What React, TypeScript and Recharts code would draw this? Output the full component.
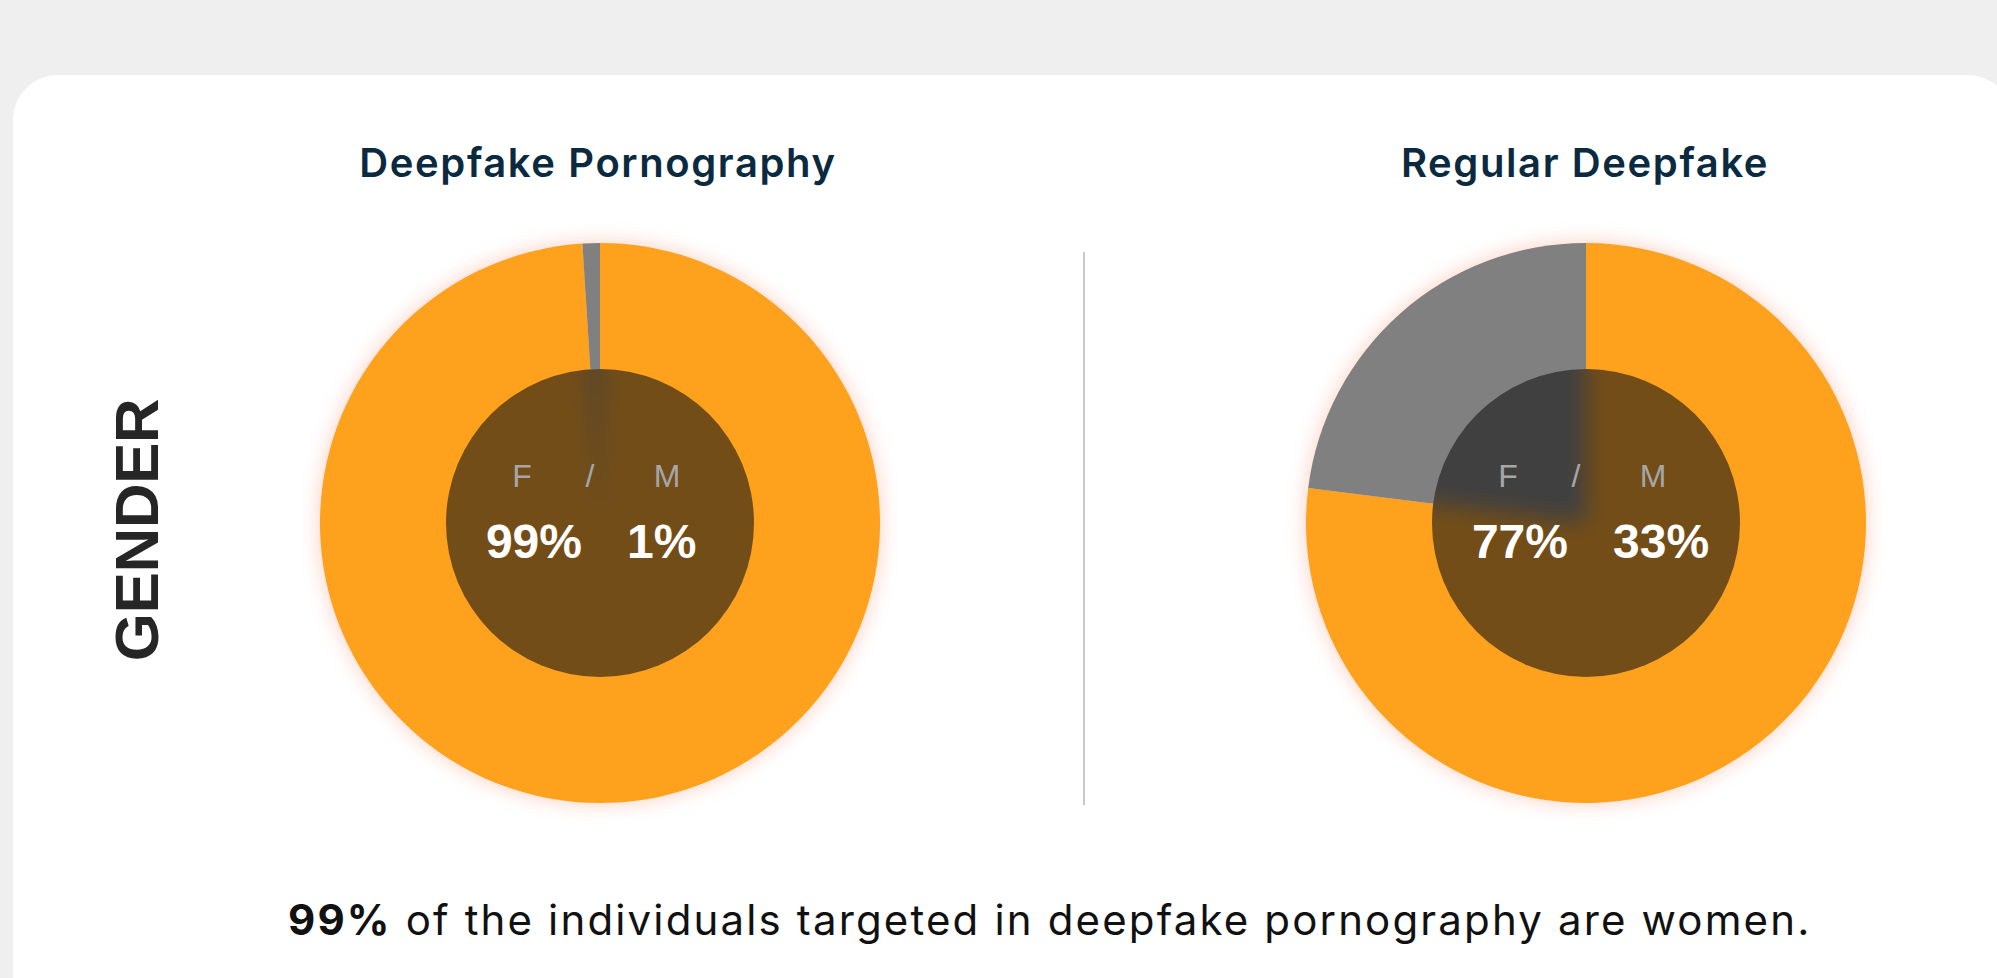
import React from 'react';
import { PieChart, Pie, Cell } from 'recharts';

// ---- data ----
const categories = ['F', 'M'];
const chartTitles = ['Deepfake Pornography', 'Regular Deepfake'];
const pornographyValues = [99, 1];
const regularValues = [77, 23];
const pornographyLabels = ['99%', '1%'];
const regularLabels = ['77%', '33%'];
const sideLabel = 'GENDER';
const footerBold = '99%';
const footerRest = ' of the individuals targeted in deepfake pornography are women.';

const COLORS = ['#FEA11C', '#808080'];
const W = 1997;
const H = 978;
const SIZE = 660;
const R = 280;
const INNER = 154;

const toData = (vals: number[]) => categories.map((c, i) => ({ name: c, value: vals[i] }));

function OnePie({ data }: { data: { name: string; value: number }[] }) {
  return (
    <PieChart width={SIZE} height={SIZE}>
      <Pie
        data={data}
        dataKey="value"
        nameKey="name"
        cx="50%"
        cy="50%"
        innerRadius={0}
        outerRadius={R}
        startAngle={90}
        endAngle={-270}
        stroke="none"
        isAnimationActive={false}
      >
        {data.map((d, i) => (
          <Cell key={d.name} fill={COLORS[i]} stroke="none" />
        ))}
      </Pie>
    </PieChart>
  );
}

function Donut({ cx, cy, values }: { cx: number; cy: number; values: number[] }) {
  const data = toData(values);
  return (
    <div style={{ position: 'absolute', left: cx - SIZE / 2, top: cy - SIZE / 2, width: SIZE, height: SIZE }}>
      <div style={{ position: 'absolute', left: 0, top: 0, width: SIZE, height: SIZE, filter: 'drop-shadow(0 0 10px rgba(255,110,70,0.35))' }}>
        <OnePie data={data} />
      </div>
      <div style={{ position: 'absolute', left: 0, top: 0, width: SIZE, height: SIZE, clipPath: `circle(${INNER}px at 50% 50%)` }}>
        <div style={{ position: 'absolute', left: 0, top: 0, width: SIZE, height: SIZE, filter: 'blur(11px)' }}>
          <OnePie data={data} />
        </div>
      </div>
      <div
        style={{
          position: 'absolute',
          left: SIZE / 2 - INNER,
          top: SIZE / 2 - INNER,
          width: INNER * 2,
          height: INNER * 2,
          borderRadius: '50%',
          background: 'rgba(22,22,22,0.6)',
        }}
      />
    </div>
  );
}

const LBL_FONT = "'Liberation Sans', Arial, sans-serif";

function CenterLabels({ cx, labels }: { cx: number; labels: string[] }) {
  return (
    <g>
      <text x={cx - 78} y={487} textAnchor="middle" fontFamily={LBL_FONT} fontSize={32} fill="#a6a6a6">{categories[0]}</text>
      <text x={cx - 10} y={487} textAnchor="middle" fontFamily={LBL_FONT} fontSize={32} fill="#a6a6a6">/</text>
      <text x={cx + 67} y={487} textAnchor="middle" fontFamily={LBL_FONT} fontSize={32} fill="#a6a6a6">{categories[1]}</text>
      <text x={cx - 18} y={558} textAnchor="end" fontFamily={LBL_FONT} fontSize={48} fontWeight={700} fill="#ffffff">{labels[0]}</text>
      <text x={cx + 27} y={558} textAnchor="start" fontFamily={LBL_FONT} fontSize={48} fontWeight={700} fill="#ffffff">{labels[1]}</text>
    </g>
  );
}

export default function App() {
  const leftCx = 600;
  const rightCx = 1586;
  const cy = 523;
  return (
    <div style={{ position: 'fixed', left: 0, top: 0, width: W, height: H, background: '#efefef', overflow: 'hidden' }}>
      <div style={{ position: 'absolute', left: 13, top: 75, width: 2000, height: 1000, borderRadius: 45, background: '#ffffff' }} />
      <div style={{ position: 'absolute', left: 1083, top: 252, width: 2, height: 553, background: '#c9c9c9' }} />
      <Donut cx={leftCx} cy={cy} values={pornographyValues} />
      <Donut cx={rightCx} cy={cy} values={regularValues} />
      <svg width={W} height={H} style={{ position: 'absolute', left: 0, top: 0, pointerEvents: 'none' }}>
        <text x={598} y={177} textAnchor="middle" fontFamily="Inter, sans-serif" fontWeight={600} fontSize={40} letterSpacing={1.6} fill="#0b2a3f">{chartTitles[0]}</text>
        <text x={1585} y={177} textAnchor="middle" fontFamily="Inter, sans-serif" fontWeight={600} fontSize={40} letterSpacing={1.6} fill="#0b2a3f">{chartTitles[1]}</text>
        <text
          x={0}
          y={0}
          transform="translate(158 530) rotate(-90)"
          textAnchor="middle"
          fontFamily={LBL_FONT}
          fontWeight={700}
          fontSize={62}
          letterSpacing={-0.5}
          fill="#262626"
        >
          {sideLabel}
        </text>
        <CenterLabels cx={leftCx} labels={pornographyLabels} />
        <CenterLabels cx={rightCx} labels={regularLabels} />
        <text x={288} y={935} fontFamily="Inter, sans-serif" fontSize={42} letterSpacing={2.15} fill="#111111" style={{ whiteSpace: 'pre' }}>
          <tspan fontWeight={700}>{footerBold}</tspan>
          <tspan>{footerRest}</tspan>
        </text>
      </svg>
    </div>
  );
}
